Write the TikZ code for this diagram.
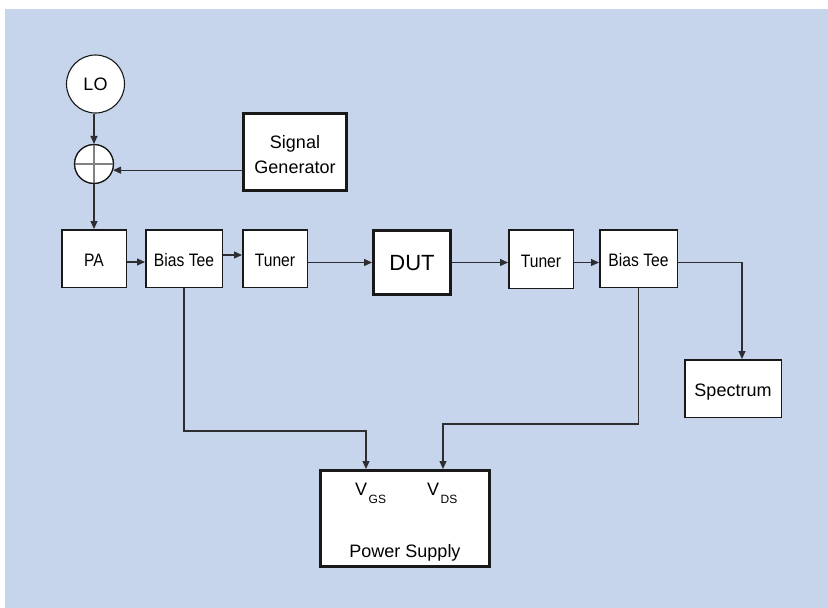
\documentclass[tikz,border=0pt]{standalone}
\usepackage{fontspec}
\setmainfont{Liberation Sans}
\usetikzlibrary{arrows.meta,calc}
\definecolor{panel}{RGB}{198,212,236}
\definecolor{wire}{RGB}{45,45,50}
\definecolor{crossgray}{RGB}{130,130,130}
\newcommand{\narrowtxt}[1]{\scalebox{0.87}[1]{#1}}
\begin{document}
\begin{tikzpicture}[x=1pt,y=-1pt,
  box/.style={draw=black!90,fill=white,line width=1.5pt,inner sep=0pt,
    text height=16pt,text depth=0pt,font=\fontsize{18}{21}\selectfont},
  heavybox/.style={box,line width=3.4pt},
  round/.style={circle,draw=black!90,fill=white,line width=1.1pt,inner sep=0pt},
  arr/.style={draw=wire,line width=1.1pt,-{Triangle[length=8pt,width=7pt]}},
  wireline/.style={draw=wire,line width=1.1pt}]
  % page and panel
  \useasboundingbox (0,0) rectangle (828,608);
  \fill[white] (0,0) rectangle (828,608);
  \fill[panel] (5,9) rectangle (828,608);

  % source side
  \node[round,minimum size=58pt,font=\fontsize{18}{21}\selectfont] (LO) at (95.5,84) {LO};
  \node[round,minimum size=39pt] (add) at (94,164) {};
  \draw[crossgray,line width=1.6pt] (add.west) -- (add.east);
  \draw[crossgray,line width=1.1pt] (add.north) -- (add.south);
  \node[round,minimum size=39pt,fill=none] at (add) {};
  \node[heavybox,minimum width=102.6pt,minimum height=76.6pt,align=center,
    text height=43pt,font=\fontsize{18}{25}\selectfont] (SG) at (295,152) {Signal\\Generator};

  % main chain
  \node[box,minimum width=64.5pt,minimum height=57.5pt] (PA) at (94,258.5) {\narrowtxt{PA}};
  \node[box,minimum width=76.5pt,minimum height=57.5pt] (BT1) at (184,258.5) {\narrowtxt{Bias Tee}};
  \node[box,minimum width=64.5pt,minimum height=57.5pt] (T1) at (275,258.5) {\narrowtxt{Tuner}};
  \node[heavybox,minimum width=76.6pt,minimum height=63.6pt,text height=16.5pt,
    font=\fontsize{22}{25}\selectfont] (DUT) at (412,262.5) {DUT};
  \node[box,minimum width=64.5pt,minimum height=58.5pt] (T2) at (541,259) {\narrowtxt{Tuner}};
  \node[box,minimum width=77.5pt,minimum height=57.5pt] (BT2) at (638.5,258.5) {\narrowtxt{Bias Tee}};
  \node[box,minimum width=96.5pt,minimum height=57.5pt] (SPEC) at (733,388.5) {Spectrum};

  % power supply
  \node[heavybox,minimum width=168.6pt,minimum height=95.6pt] (PS) at (405,518.5) {};
  \node[anchor=base west,inner sep=0pt,font=\fontsize{18}{21}\selectfont] (vgs) at (355,495)
    {V\hspace{1.5pt}\raisebox{-8pt}{\fontsize{12}{12}\selectfont GS}};
  \node[anchor=base west,inner sep=0pt,font=\fontsize{18}{21}\selectfont] (vds) at (427,495)
    {V\hspace{1.5pt}\raisebox{-8pt}{\fontsize{12}{12}\selectfont DS}};
  \node[anchor=base,inner sep=0pt,font=\fontsize{18}{21}\selectfont] (pslabel) at (405,557) {Power Supply};

  % connectors
  \draw[arr] (LO.south -| add.north) -- (add.north);
  \draw[arr] (SG.west |- add.-18) -- (add.-18);
  \draw[arr] (add.south) -- (PA.north);
  \draw[arr] ([yshift=-3.5pt]PA.east) -- ([yshift=-3.5pt]BT1.west);
  \draw[arr] ([yshift=3.5pt]BT1.east) -- ([yshift=3.5pt]T1.west);
  \draw[arr] (T1.east |- DUT.west) -- (DUT.west);
  \draw[arr] (DUT.east) -- (T2.west |- DUT.east);
  \draw[arr] (T2.east |- DUT.east) -- (BT2.west |- DUT.east);
  \draw[arr] (BT2.east |- DUT.east) -| ([xshift=9pt]SPEC.north);
  \draw[arr] (BT1.south) |- ($(PS.north)+(-39,-38)$) -- ([xshift=-39pt]PS.north);
  \draw[arr] (BT2.south) |- ($(PS.north)+(38,-45)$) -- ([xshift=38pt]PS.north);
\end{tikzpicture}
\end{document}
